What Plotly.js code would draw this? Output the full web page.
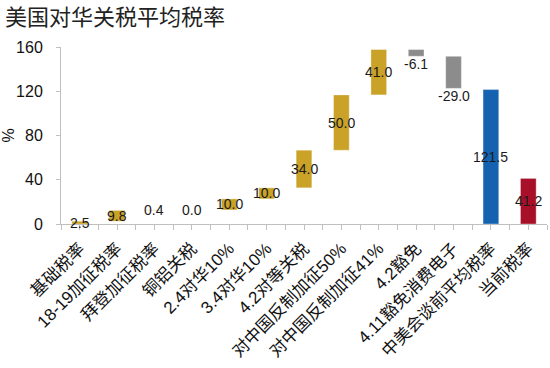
<!DOCTYPE html>
<html><head><meta charset="utf-8">
<script src="https://cdn.plot.ly/plotly-3.0.1.min.js"></script>
<style>html,body{margin:0;padding:0;background:#fff;}#chart{width:550px;height:368px;}</style>
</head><body><div id="chart"></div>
<script>
const categories = ['基础税率','18-19加征税率','拜登加征税率','铜铝关税','2.4对华10%','3.4对华10%','4.2对等关税','对中国反制加征50%','对中国反制加征41%','4.2豁免','4.11豁免消费电子','中美会谈前平均税率','当前税率'];
const values = [2.5, 9.8, 0.4, 0.0, 10.0, 10.0, 34.0, 50.0, 41.0, -6.1, -29.0, 121.5, 41.2];
const measures = ['relative','relative','relative','relative','relative','relative','relative','relative','relative','relative','relative','absolute','absolute'];
const yTicks = [0, 40, 80, 120, 160];

const GOLD = '#C9A227', GREY = '#8C8C8C', BLUE = '#1562B0', RED = '#A8102A';
const totalColors = [BLUE, RED];

let running = 0, ti = 0;
const bases = [], heights = [], colors = [];
values.forEach((v, i) => {
  if (measures[i] === 'absolute') {
    bases.push(0); heights.push(v); running = v;
    colors.push(totalColors[ti++ % totalColors.length]);
  } else {
    bases.push(v >= 0 ? running : running + v);
    heights.push(Math.abs(v));
    colors.push(v >= 0 ? GOLD : GREY);
    running += v;
  }
});

const annotations = values.map((v, i) => {
  const neg = v < 0 && measures[i] !== 'absolute';
  return {
    x: categories[i], xref: 'x', yref: 'y',
    y: neg ? bases[i] : bases[i] + heights[i] / 2,
    yshift: neg ? -8 : 0,
    text: v.toFixed(1), showarrow: false,
    font: {family: 'Liberation Sans, Arial, sans-serif', size: 14, color: '#1a1a1a'},
    xanchor: 'center', yanchor: 'middle'
  };
});

const traces = [{
  type: 'bar', x: categories, y: heights, base: bases,
  width: 0.42,
  marker: {color: colors, line: {color: 'rgba(255,255,255,0.35)', width: 1}},
  hoverinfo: 'none', showlegend: false
}, {
  type: 'scatter', x: [0], y: [0], xaxis: 'x2', yaxis: 'y',
  mode: 'markers', marker: {opacity: 0}, showlegend: false, hoverinfo: 'none'
}];

const layout = {
  width: 550, height: 368,
  margin: {l: 61, r: 3, t: 47, b: 144},
  paper_bgcolor: '#fff', plot_bgcolor: '#fff',
  title: {text: '美国对华关税平均税率', x: 0.009, xanchor: 'left', xref: 'container',
    yref: 'container', y: 1 - 17/368, yanchor: 'middle',
    font: {family: 'Noto Sans CJK SC, sans-serif', size: 22, color: '#222'}},
  xaxis: {
    type: 'category', range: [-0.5, 12.5],
    showline: true, linecolor: '#c0c0c0', linewidth: 1,
    ticks: 'outside', tickson: 'boundaries', ticklen: 5, tickcolor: '#c0c0c0',
    tickangle: -45, showgrid: false, zeroline: false, ticklabelstandoff: 7,
    tickfont: {family: 'Liberation Sans, Noto Sans CJK SC, sans-serif', size: 17, color: '#111'}
  },
  xaxis2: {
    overlaying: 'x', range: [-0.5, 12.5], tickmode: 'array',
    tickvals: categories.map((c, i) => i), showticklabels: false,
    ticks: 'outside', ticklen: 5, tickcolor: '#c0c0c0',
    showgrid: false, zeroline: false, showline: false, anchor: 'y'
  },
  yaxis: {
    range: [0, 160], tickvals: yTicks, ticktext: yTicks.map(String),
    showline: true, linecolor: '#c0c0c0', linewidth: 1,
    ticks: 'outside', ticklen: 4, tickcolor: '#c0c0c0',
    showgrid: false, zeroline: false, ticklabelstandoff: 10,
    tickfont: {family: 'Liberation Sans, Arial, sans-serif', size: 16, color: '#111'},
    title: {text: '%', standoff: 12, font: {family: 'Liberation Sans, Arial, sans-serif', size: 16, color: '#111'}}
  },
  annotations: annotations,
  bargap: 0.5
};

Plotly.newPlot('chart', traces, layout, {displayModeBar: false, staticPlot: true});
</script>
</body></html>
